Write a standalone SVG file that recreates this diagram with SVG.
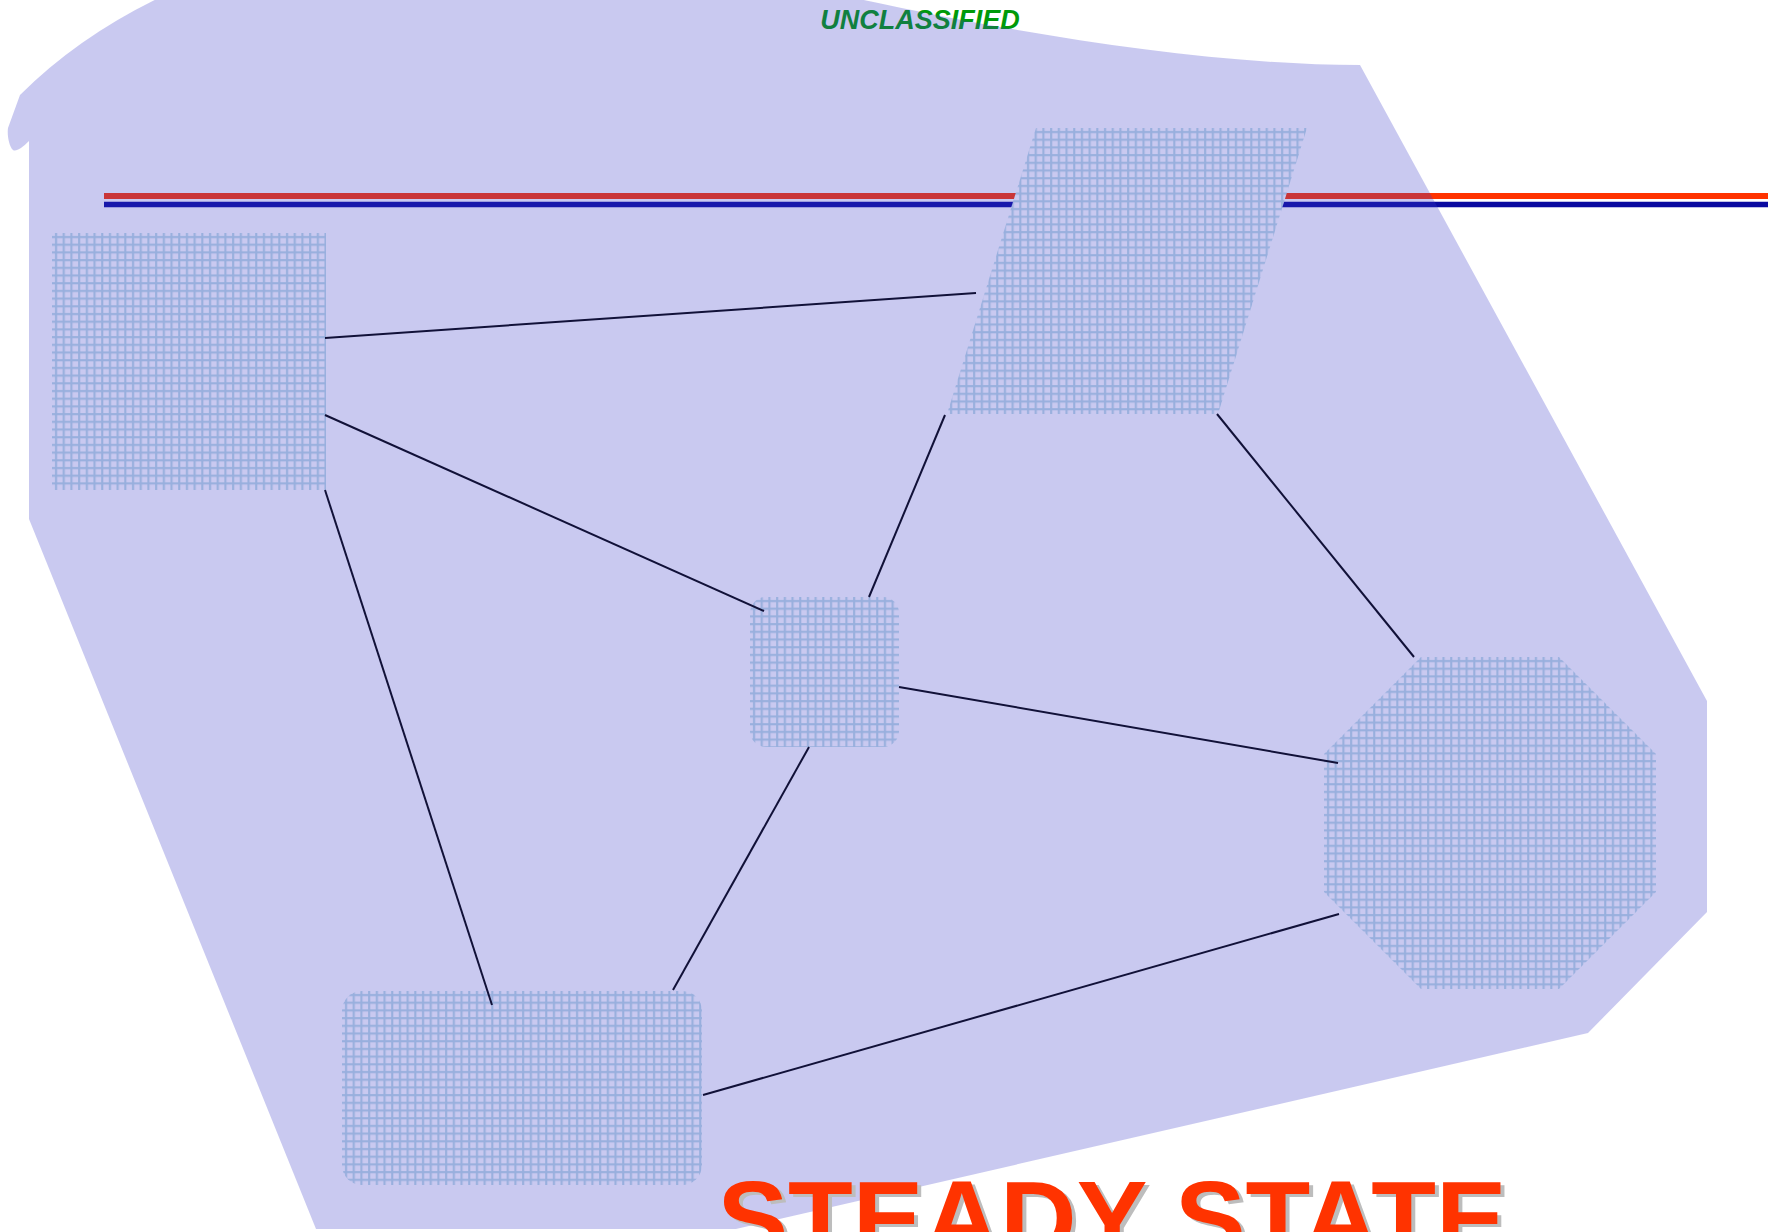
<svg xmlns="http://www.w3.org/2000/svg" width="1768" height="1232" viewBox="0 0 1768 1232">
  <style>
    .node { fill: url(#grid); }
    .conn { stroke: #000; stroke-width: 2; fill: none; }
    .banner { font-family: "Liberation Sans", Arial, sans-serif; font-weight: bold; font-style: italic; font-size: 27px; fill: #009A0A; }
    .big { font-family: "Liberation Sans", Arial, sans-serif; font-weight: bold; font-size: 106px; }
  </style>
  <defs>
    <pattern id="grid" patternUnits="userSpaceOnUse" width="7.7" height="7.7">
      <rect width="7.7" height="7.7" fill="#ffffff"/>
      <rect x="3" y="0" width="2.1" height="7.7" fill="#BCDCE6"/>
      <rect x="0" y="3" width="7.7" height="2.1" fill="#BCDCE6"/>
    </pattern>
  </defs>
  <rect width="1768" height="1232" fill="#ffffff"/>

  <g id="rules">
    <line x1="104" y1="196" x2="1768" y2="196" stroke="#FF3300" stroke-width="6"/>
    <line x1="104" y1="204.5" x2="1768" y2="204.5" stroke="#0A0AA0" stroke-width="5.5"/>
  </g>

  <g id="node-rect" transform="translate(52,233)">
    <rect class="node" width="274" height="257"/>
  </g>
  <g id="node-parallelogram" transform="translate(947,128)">
    <polygon class="node" points="89,0 360,0 271,286 0,286"/>
  </g>
  <g id="node-center" transform="translate(750,597)">
    <rect class="node" width="149" height="150" rx="16" ry="16"/>
  </g>
  <g id="node-octagon" transform="translate(1324,657)">
    <polygon class="node" points="97,0 235,0 332,97 332,235 235,332 97,332 0,235 0,97"/>
  </g>
  <g id="node-bottom" transform="translate(342,991)">
    <rect class="node" width="360" height="194" rx="20" ry="20"/>
  </g>

  <g id="connectors">
    <line class="conn" x1="325" y1="338" x2="976" y2="293"/>
    <line class="conn" x1="325" y1="415" x2="764" y2="611"/>
    <line class="conn" x1="325" y1="490" x2="492" y2="1005"/>
    <line class="conn" x1="945" y1="415" x2="869" y2="597"/>
    <line class="conn" x1="1217" y1="414" x2="1414" y2="657"/>
    <line class="conn" x1="899" y1="687" x2="1338" y2="763"/>
    <line class="conn" x1="809" y1="747" x2="673" y2="990"/>
    <line class="conn" x1="703" y1="1095" x2="1339" y2="914"/>
  </g>

  <text class="banner" x="920" y="29" text-anchor="middle">UNCLASSIFIED</text>

  <path id="region" d="M 29 519 L 29 141 C 22 148 16 152 13 150 C 9 146 7 135 8 128 L 20 95 Q 80 35 165 -5 L 180 -30 L 840 -30 L 850 -3 C 1000 30 1200 65 1360 65 L 1707 701 L 1707 912 L 1588 1033 L 736 1229 L 316 1229 Z" fill="#3C3CC8" fill-opacity="0.28"/>

  <g id="caption">
    <text class="big" x="1116" y="1258" text-anchor="middle" fill="#BDBDBD">STEADY STATE</text>
    <text class="big" x="1112" y="1255" text-anchor="middle" fill="#FF3300">STEADY STATE</text>
  </g>
</svg>
